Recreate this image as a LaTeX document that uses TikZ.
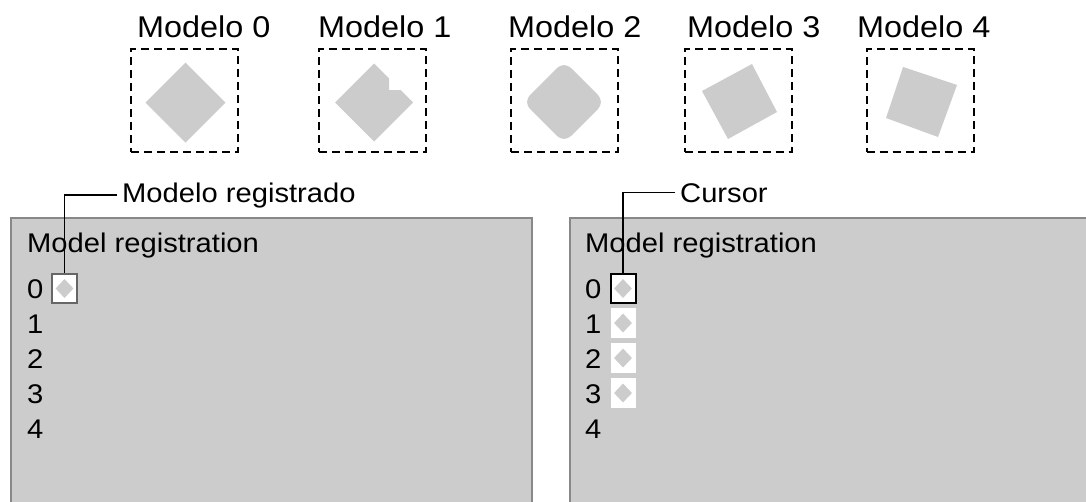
\documentclass[tikz,border=0pt]{standalone}
\usepackage{fontspec}
\setmainfont{Liberation Sans}[FakeStretch=1.08]
\usetikzlibrary{shapes.geometric}
\definecolor{shapegray}{HTML}{CCCCCC}
\definecolor{panelgray}{HTML}{CCCCCC}
\definecolor{panelborder}{HTML}{888888}
\definecolor{slotborder}{HTML}{666666}
\begin{document}
\begin{tikzpicture}[x=1pt,y=-1pt,
  dbox/.style={draw=black, line width=2pt, dash pattern=on 8pt off 5pt, minimum width=107pt, minimum height=103pt, inner sep=0pt},
  bigshape/.style={fill=shapegray},
  toplabel/.style={anchor=base west, inner sep=0pt, font=\fontsize{30}{36}\selectfont},
  paneltext/.style={anchor=base west, inner sep=0pt, font=\fontsize{27}{32}\selectfont},
  callout/.style={anchor=base west, inner xsep=5pt, inner ysep=0pt, font=\fontsize{27}{32}\selectfont},
  panel/.style={fill=panelgray, draw=panelborder, line width=2pt},
  slot/.style={fill=white, minimum width=25pt, minimum height=30pt, inner sep=0pt},
  regslot/.style={slot, draw=slotborder, line width=1.2pt, minimum height=29pt},
  cursorslot/.style={slot, draw=black, line width=2pt, minimum height=29pt},
  minidia/.style={diamond, fill=shapegray, minimum width=18pt, minimum height=19pt, inner sep=0pt},
  lead/.style={draw=black, line width=1.5pt}
]
\useasboundingbox (0,0) rectangle (1086,501);

% top labels
\node[toplabel] (m0) at (137,37) {Modelo 0};
\node[toplabel] (m1) at (318,37) {Modelo 1};
\node[toplabel] (m2) at (508,37) {Modelo 2};
\node[toplabel] (m3) at (687,37) {Modelo 3};
\node[toplabel] (m4) at (857,37) {Modelo 4};

% dashed boxes
\node[dbox] (box0) at (184.5,100.5) {};
\node[dbox] (box1) at (372.5,100.5) {};
\node[dbox] (box2) at (564.5,100.5) {};
\node[dbox] (box3) at (738,100.5) {};
\node[dbox] (box4) at (920,100.5) {};

% shapes
\fill[bigshape] (145.5,102.5) -- (185.5,62.5) -- (225.5,102.5) -- (185.5,142.5) -- cycle;
\fill[bigshape] (374,63.5) -- (389,78.5) -- (389,90) -- (400.5,90) -- (413,102.5) -- (374,141.5) -- (335,102.5) -- cycle;
\fill[bigshape, rounded corners=10pt] (523,102) -- (564,61) -- (605,102) -- (564,143) -- cycle;
\fill[bigshape] (702,91) -- (752,64) -- (777,112) -- (728,139) -- cycle;
\fill[bigshape] (903,67) -- (957,85) -- (938,137) -- (886,118) -- cycle;

% panels
\begin{scope}
\clip (0,0) rectangle (1086,501);
\path[panel] (11,218) rectangle (532,530);
\path[panel] (570,218) rectangle (1110,530);
\end{scope}

% left panel
\node[paneltext] (t1) at (27,252) {Model registration};
\node[paneltext] (l0) at (27,298) {0};
\node[paneltext] (l1) at (27,333) {1};
\node[paneltext] (l2) at (27,368) {2};
\node[paneltext] (l3) at (27,403) {3};
\node[paneltext] (l4) at (27,438) {4};
\node[regslot] (reg0) at (64.5,288.5) {};
\node[minidia] at (reg0) {};

% right panel
\node[paneltext] (t2) at (585,252) {Model registration};
\node[paneltext] (r0) at (585,298) {0};
\node[paneltext] (r1) at (585,333) {1};
\node[paneltext] (r2) at (585,368) {2};
\node[paneltext] (r3) at (585,403) {3};
\node[paneltext] (r4) at (585,438) {4};
\node[slot] (s1) at (623,323) {};
\node[slot] (s2) at (623,358) {};
\node[slot] (s3) at (623,393) {};
\node[cursorslot] (cur) at (623,288.5) {};
\foreach \s in {cur,s1,s2,s3} \node[minidia] at (\s) {};

% callouts
\node[callout] (lreg) at (117,202) {Modelo registrado};
\node[callout] (lcur) at (675,202) {Cursor};
\draw[lead] (lreg.west) -| (reg0.north);
\draw[lead] (lcur.west) -| (cur.north);
\end{tikzpicture}
\end{document}
